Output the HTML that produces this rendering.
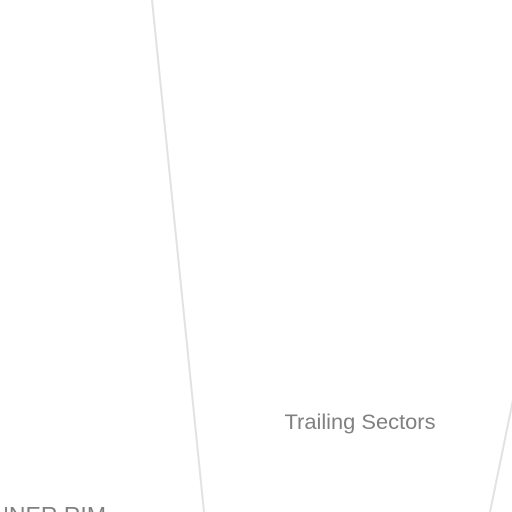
<!DOCTYPE html>
<html><head><meta charset="utf-8"><style>
html,body{margin:0;padding:0;background:#fff;}
svg{display:block;}
text{font-family:"Liberation Sans",sans-serif;}
</style></head><body>
<svg width="512" height="512" viewBox="0 0 512 512">
<line x1="152" y1="0" x2="204" y2="512" stroke="#e2e2e2" stroke-width="2"/>
<line x1="513" y1="400" x2="490" y2="512" stroke="#e2e2e2" stroke-width="2"/>
<text x="360" y="429" text-anchor="middle" font-size="21" textLength="151" lengthAdjust="spacingAndGlyphs" fill="#808080">Trailing Sectors</text>
<text x="106" y="523" text-anchor="end" font-size="23" fill="#808080">INNER RIM</text>
</svg>
</body></html>
